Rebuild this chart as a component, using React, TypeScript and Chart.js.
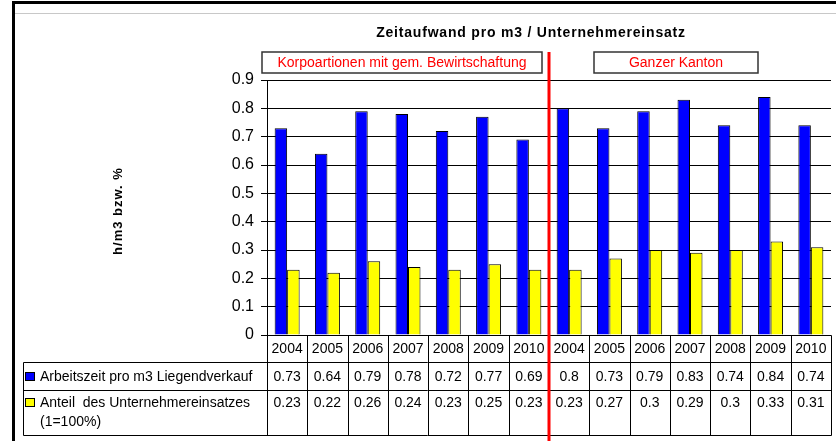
import React, { useEffect, useRef } from 'react';
import { Chart, registerables } from 'chart.js';

Chart.register(...registerables);

const years = ['2004', '2005', '2006', '2007', '2008', '2009', '2010', '2004', '2005', '2006', '2007', '2008', '2009', '2010'];
const arbeitszeit = [0.73, 0.64, 0.79, 0.78, 0.72, 0.77, 0.69, 0.8, 0.73, 0.79, 0.83, 0.74, 0.84, 0.74];
const anteil = [0.23, 0.22, 0.26, 0.24, 0.23, 0.25, 0.23, 0.23, 0.27, 0.3, 0.29, 0.3, 0.33, 0.31];
const seriesNames = ['Arbeitszeit pro m3 Liegendverkauf', 'Anteil  des Unternehmereinsatzes'];
const seriesNote = '(1=100%)';
const chartTitle = 'Zeitaufwand pro m3 / Unternehmereinsatz';
const yAxisTitle = 'h/m3 bzw. %';
const groupNames = ['Korpoartionen mit gem. Bewirtschaftung', 'Ganzer Kanton'];
const seriesColors = ['#0000FF', '#FFFF00'];

const FONT = '"Liberation Sans", Arial, sans-serif';
const W = 836;
const H = 441;

const decor = {
  id: 'decor',
  beforeDraw(chart: any) {
    const ctx = chart.ctx as CanvasRenderingContext2D;
    ctx.save();
    ctx.fillStyle = '#ffffff';
    ctx.fillRect(0, 0, chart.width, chart.height);
    ctx.fillStyle = '#000000';
    ctx.fillRect(12, 1, chart.width - 12, 3);
    ctx.fillRect(12, 1, 3, chart.height);
    ctx.fillStyle = '#c8c8c8';
    ctx.fillRect(15, 13, chart.width - 15, 1);
    ctx.restore();
  },
  afterDraw(chart: any) {
    const ctx = chart.ctx as CanvasRenderingContext2D;
    const xs = chart.scales.x;
    const area = chart.chartArea;
    const n = years.length;
    const step = xs.getPixelForValue(1) - xs.getPixelForValue(0);
    const half = step / 2;
    const rowTop = area.bottom;
    const row1 = 362;
    const row2 = 390;
    const rowBottom = 435;
    const labelLeft = 23;
    const snap = (v: number) => Math.round(v) + 0.5;

    ctx.save();
    // Title
    ctx.fillStyle = '#000';
    ctx.font = `bold 14px ${FONT}`;
    (ctx as any).letterSpacing = '0.8px';
    ctx.textAlign = 'center';
    ctx.textBaseline = 'middle';
    ctx.fillText(chartTitle, 531, 33);

    // Y axis title
    ctx.save();
    ctx.translate(118, 211);
    ctx.rotate(-Math.PI / 2);
    ctx.font = `bold 13px ${FONT}`;
    (ctx as any).letterSpacing = '1px';
    ctx.fillText(yAxisTitle, 0, 0);
    ctx.restore();
    (ctx as any).letterSpacing = '0px';

    // Table grid
    ctx.strokeStyle = '#000';
    ctx.lineWidth = 1;
    ctx.beginPath();
    ctx.moveTo(snap(area.left), snap(rowTop));
    ctx.lineTo(snap(area.right), snap(rowTop));
    for (const y of [row1, row2, rowBottom]) {
      ctx.moveTo(snap(labelLeft), snap(y));
      ctx.lineTo(snap(area.right), snap(y));
    }
    for (let i = 0; i <= n; i++) {
      const x = i < n ? xs.getPixelForValue(i) - half : xs.getPixelForValue(n - 1) + half;
      ctx.moveTo(snap(x), snap(rowTop));
      ctx.lineTo(snap(x), snap(rowBottom));
    }
    ctx.moveTo(snap(labelLeft), snap(row1));
    ctx.lineTo(snap(labelLeft), snap(rowBottom));
    ctx.stroke();

    // Table text
    ctx.font = `14px ${FONT}`;
    ctx.fillStyle = '#000';
    ctx.textAlign = 'center';
    ctx.textBaseline = 'middle';
    for (let i = 0; i < n; i++) {
      const cx = xs.getPixelForValue(i);
      ctx.fillText(years[i], cx, (rowTop + row1) / 2 + 1);
      ctx.fillText(String(arbeitszeit[i]), cx, (row1 + row2) / 2 + 1);
      ctx.fillText(String(anteil[i]), cx, 403);
    }
    ctx.textAlign = 'left';
    ctx.fillText(seriesNames[0], 40, (row1 + row2) / 2 + 1);
    ctx.fillText(seriesNames[1], 40, 403);
    ctx.fillText(seriesNote, 40, 422);
    // legend keys
    const keys = [[372, seriesColors[0]], [398, seriesColors[1]]] as const;
    for (const [ky, col] of keys) {
      ctx.fillStyle = col;
      ctx.fillRect(25, ky, 10, 9);
      ctx.strokeStyle = '#000';
      ctx.strokeRect(25.5, ky + 0.5, 9, 8);
    }

    // Group boxes
    const boxes: [number, number, string][] = [
      [262, 542, groupNames[0]],
      [594, 758, groupNames[1]],
    ];
    for (const [x1, x2, txt] of boxes) {
      ctx.fillStyle = '#fff';
      ctx.fillRect(x1, 52, x2 - x1, 21);
      ctx.strokeStyle = '#333';
      ctx.lineWidth = 1.5;
      ctx.strokeRect(x1, 52, x2 - x1, 21);
      ctx.fillStyle = '#FF0000';
      ctx.font = `14px ${FONT}`;
      ctx.textAlign = 'center';
      ctx.textBaseline = 'middle';
      ctx.fillText(txt, (x1 + x2) / 2, 63);
    }

    // Red divider
    const rx = (xs.getPixelForValue(6) + xs.getPixelForValue(7)) / 2;
    ctx.fillStyle = '#FF0000';
    ctx.fillRect(rx - 1.5, 52, 3, chart.height - 52);
    ctx.restore();
  },
};

export default function App() {
  const ref = useRef<HTMLCanvasElement | null>(null);
  useEffect(() => {
    if (!ref.current) return;
    const chart = new Chart(ref.current, {
      type: 'bar',
      data: {
        labels: years,
        datasets: [
          {
            label: seriesNames[0],
            data: arbeitszeit,
            backgroundColor: seriesColors[0],
            borderColor: '#000',
            borderWidth: 1,
            categoryPercentage: 0.62,
            barPercentage: 1,
          },
          {
            label: seriesNames[1],
            data: anteil,
            backgroundColor: seriesColors[1],
            borderColor: '#000',
            borderWidth: 1,
            categoryPercentage: 0.62,
            barPercentage: 1,
          },
        ],
      },
      options: {
        animation: false,
        responsive: false,
        devicePixelRatio: 1,
        layout: { padding: { left: 0, top: 80, right: 5, bottom: H - 335 } },
        plugins: {
          legend: { display: false },
          title: { display: false },
          tooltip: { enabled: false },
        },
        scales: {
          x: { display: false },
          y: {
            min: 0,
            max: 0.9,
            ticks: {
              stepSize: 0.1,
              color: '#000',
              font: { family: FONT, size: 16 },
              padding: 7,
              callback: (v: any) => String(Math.round(Number(v) * 10) / 10),
            },
            grid: { color: '#000', lineWidth: 1, tickLength: 6 },
            border: { display: true, color: '#000', width: 1 },
            afterFit: (scale: any) => {
              scale.width = 267;
            },
          },
        },
      },
      plugins: [decor],
    } as any);
    return () => chart.destroy();
  }, []);
  return (
    <div style={{ position: 'fixed', left: 0, top: 0, width: W, height: H }}>
      <canvas ref={ref} width={W} height={H} style={{ width: W, height: H, display: 'block' }} />
    </div>
  );
}
